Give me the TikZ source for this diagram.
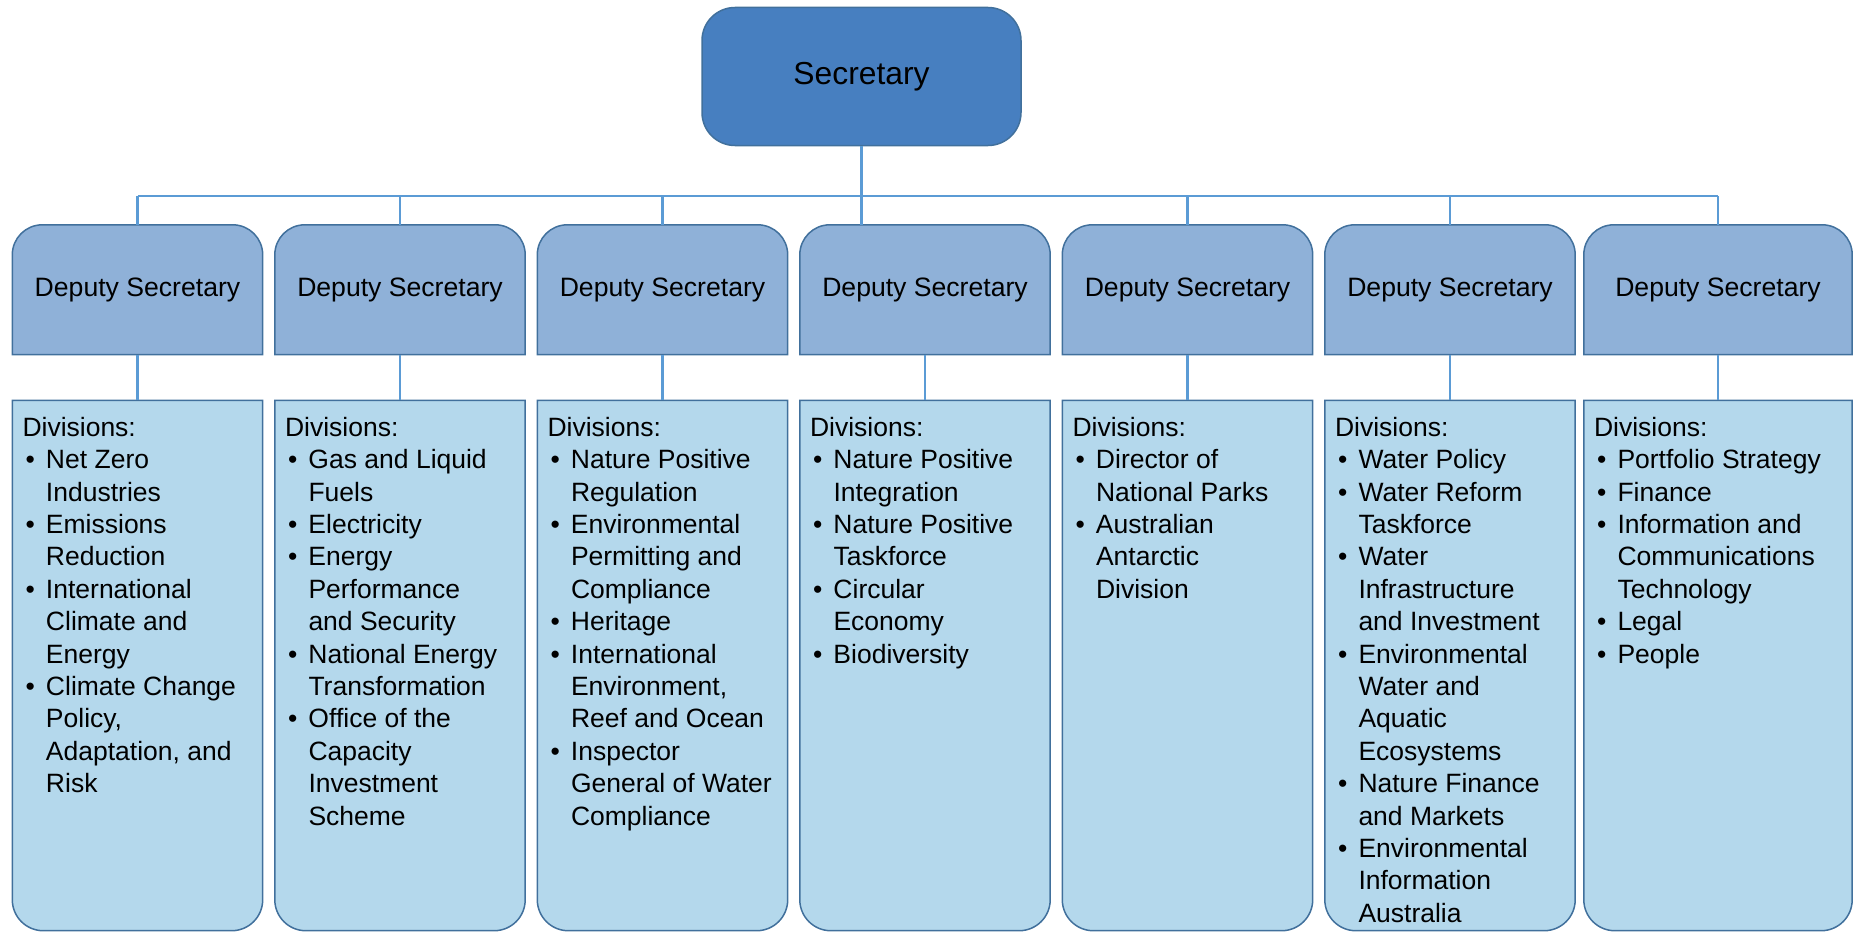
\documentclass[tikz,border=0pt]{standalone}
\usepackage{fontspec}
\setmainfont{Liberation Sans}
\usetikzlibrary{backgrounds}

\definecolor{secfill}{HTML}{477FC0}
\definecolor{depfill}{HTML}{8FB1D8}
\definecolor{divfill}{HTML}{B4D8EC}
\definecolor{rimblue}{HTML}{41709C}
\definecolor{linkblue}{HTML}{5B9BD5}

% list helpers: bullet column, continuation indent, first-line strut
\newcommand{\bul}{\makebox[23.5pt][l]{\hspace{3pt}\textbullet}}
\newcommand{\ind}{\makebox[23.5pt]{}}
\newcommand{\fst}{\rule{0pt}{20pt}}

\begin{document}
\begin{tikzpicture}[x=1pt,y=-1pt,
  box/.style={rectangle, inner sep=0pt},
  secbox/.style={box, draw=rimblue, line width=1.5pt, fill=secfill,
    rounded corners=33pt, minimum width=319pt, minimum height=138pt,
    font=\fontsize{31.8}{38}\selectfont},
  depbox/.style={box, minimum width=250pt, minimum height=129.5pt,
    font=\fontsize{26.6}{32}\selectfont},
  divbox/.style={box, minimum width=250pt, minimum height=530pt},
  divtext/.style={inner sep=0pt, anchor=north west, align=left,
    font=\fontsize{26.5}{32.4}\selectfont},
  outline/.style={draw=rimblue, line width=1.5pt},
  wire/.style={draw=linkblue, line width=2.4pt}
]
\useasboundingbox (0,0) rectangle (1853,934);

% top of the chart
\node[secbox] (sec) at (861.5,76.5) {Secretary};

% deputy and division boxes
\foreach \i/\cx in {1/137.5,2/400,3/662.5,4/925,5/1187.5,6/1450} {
  \node[depbox] (dep\i) at (\cx,289.75) {Deputy Secretary};
  \node[divbox] (div\i) at (\cx,665.5) {};
}
\node[depbox, minimum width=268pt] (dep7) at (1718,289.75) {Deputy Secretary};
\node[divbox, minimum width=268pt] (div7) at (1718,665.5) {};

% box outlines: deputies rounded on top, divisions rounded at the bottom
\begin{scope}[on background layer]
\foreach \i in {1,...,7} {
  \draw[outline, fill=depfill] (dep\i.south west) [rounded corners=30pt]
    -- (dep\i.north west) -- (dep\i.north east) [sharp corners]
    -- (dep\i.south east) -- cycle;
  \draw[outline, fill=divfill] (div\i.north east) -- (div\i.north west)
    [rounded corners=31pt] -- (div\i.south west) -- (div\i.south east)
    [sharp corners] -- cycle;
}
\end{scope}

% connectors
\coordinate (bus) at (861.5,196);
\draw[wire] (sec.south) -- (sec.south |- dep4.north);
\draw[wire] (dep1.north |- bus) -- (dep7.north |- bus);
\foreach \i in {1,2,3,5,6,7}
  \draw[wire] (dep\i.north |- bus) -- (dep\i.north);
\foreach \i in {1,...,7}
  \draw[wire] (dep\i.south) -- (div\i.north);

% division lists
\node[divtext] (list1) at ([shift={(10,15.7)}]div1.north west) {\fst Divisions:\\
  \bul Net Zero\\ \ind Industries\\
  \bul Emissions\\ \ind Reduction\\
  \bul International\\ \ind Climate and\\ \ind Energy\\
  \bul Climate Change\\ \ind Policy,\\ \ind Adaptation, and\\ \ind Risk};

\node[divtext] (list2) at ([shift={(10,15.7)}]div2.north west) {\fst Divisions:\\
  \bul Gas and Liquid\\ \ind Fuels\\
  \bul Electricity\\
  \bul Energy\\ \ind Performance\\ \ind and Security\\
  \bul National Energy\\ \ind Transformation\\
  \bul Office of the\\ \ind Capacity\\ \ind Investment\\ \ind Scheme};

\node[divtext] (list3) at ([shift={(10,15.7)}]div3.north west) {\fst Divisions:\\
  \bul Nature Positive\\ \ind Regulation\\
  \bul Environmental\\ \ind Permitting and\\ \ind Compliance\\
  \bul Heritage\\
  \bul International\\ \ind Environment,\\ \ind Reef and Ocean\\
  \bul Inspector\\ \ind General of Water\\ \ind Compliance};

\node[divtext] (list4) at ([shift={(10,15.7)}]div4.north west) {\fst Divisions:\\
  \bul Nature Positive\\ \ind Integration\\
  \bul Nature Positive\\ \ind Taskforce\\
  \bul Circular\\ \ind Economy\\
  \bul Biodiversity};

\node[divtext] (list5) at ([shift={(10,15.7)}]div5.north west) {\fst Divisions:\\
  \bul Director of\\ \ind National Parks\\
  \bul Australian\\ \ind Antarctic\\ \ind Division};

\node[divtext] (list6) at ([shift={(10,15.7)}]div6.north west) {\fst Divisions:\\
  \bul Water Policy\\
  \bul Water Reform\\ \ind Taskforce\\
  \bul Water\\ \ind Infrastructure\\ \ind and Investment\\
  \bul Environmental\\ \ind Water and\\ \ind Aquatic\\ \ind Ecosystems\\
  \bul Nature Finance\\ \ind and Markets\\
  \bul Environmental\\ \ind Information\\ \ind Australia};

\node[divtext] (list7) at ([shift={(10,15.7)}]div7.north west) {\fst Divisions:\\
  \bul Portfolio Strategy\\
  \bul Finance\\
  \bul Information and\\ \ind Communications\\ \ind Technology\\
  \bul Legal\\
  \bul People};
\end{tikzpicture}
\end{document}
